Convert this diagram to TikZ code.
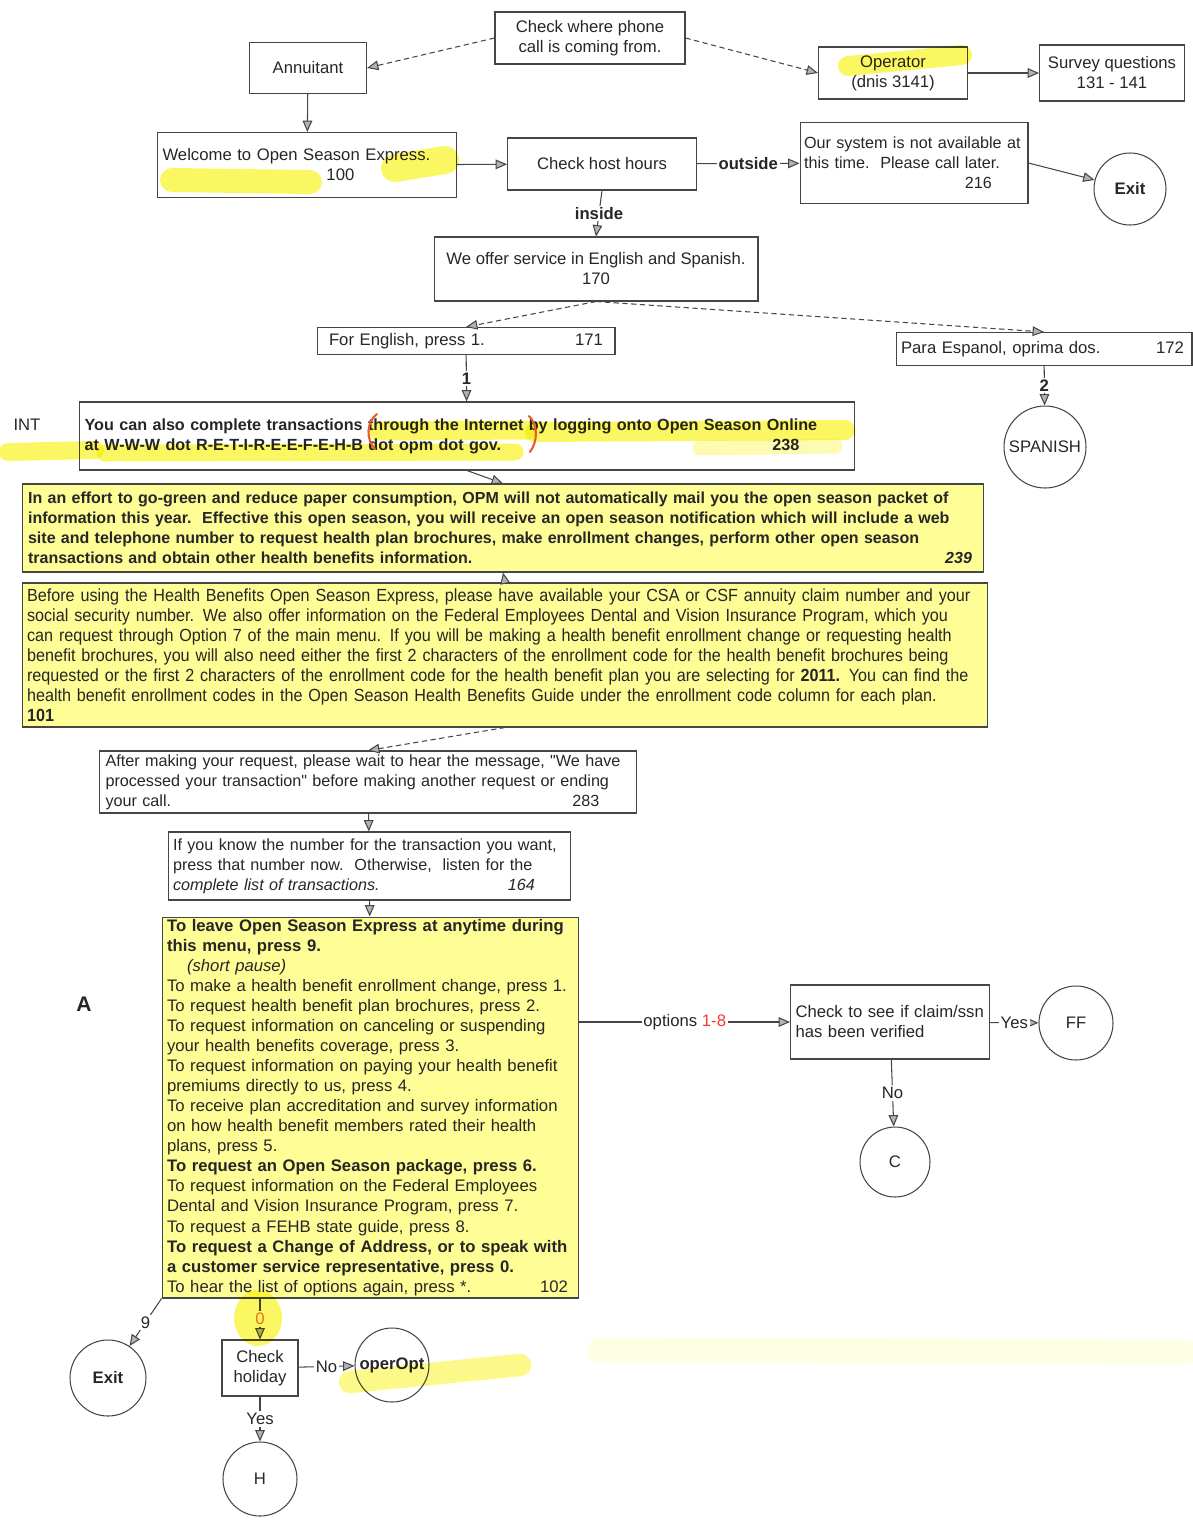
\documentclass[tikz,border=0pt]{standalone}
\usepackage{fontspec}
\setmainfont{Liberation Sans}
\newfontfamily\narrowfont{Liberation Sans}[FakeStretch=0.92]
\newfontfamily\qfont{Liberation Sans}
\usepackage{tikz}
\usetikzlibrary{arrows.meta,calc}
\definecolor{linec}{RGB}{70,70,70}
\definecolor{boxyel}{RGB}{255,253,150}
\definecolor{hlyel}{RGB}{250,245,60}
\definecolor{penred}{RGB}{232,90,50}
\definecolor{zeroc}{RGB}{235,120,60}
\newcommand{\fsz}{\fontsize{9.5}{11.4}\selectfont}
\newcommand{\fsm}{\fontsize{9.2}{11.4}\selectfont}
\newcommand{\rnum}[2]{\hskip0pt plus1fill #1\hspace*{#2}}
\newcommand{\dq}{{\qfont"}}

\begin{document}
\begin{tikzpicture}[x=0.02cm,y=-0.02cm,>={Triangle[length=6.5pt,width=5.5pt,fill=gray!60]},
		every node/.style={text=black!85,font=\fsz},
		box/.style={draw=linec,line width=0.6pt,inner xsep=0.1cm,inner ysep=0pt},
		ybox/.style={box,fill=boxyel},
		circ/.style={draw=linec,line width=0.6pt,circle,inner sep=0pt},
		conn/.style={linec,line width=0.6pt},
		dsh/.style={conn,densely dashed},
		lbl/.style={fill=white,inner sep=1pt,font=\fsz\bfseries},
		hl/.style={hlyel,line cap=round,opacity=0.8},
		pen/.style={penred,line width=1.2pt,line cap=round}
		]
		\useasboundingbox (0,0) rectangle (1193,1522);
		%INGRESSO
		\node[box,minimum width=3.8cm,minimum height=1.04cm,align=center] (@chk) at (590,38) {Check where phone\\call is coming from.};
		\node[box,minimum width=2.34cm,minimum height=1.02cm] (@ann) at (308,68) {Annuitant};
		\node[box,minimum width=2.98cm,minimum height=1.04cm,align=center] (@op) at (893,73) {Operator\\(dnis 3141)};
		\node[box,minimum width=2.9cm,minimum height=1.12cm,align=center] (@srv) at (1112,73) {Survey questions\\131 - 141};
		\node[box,text width=5.78cm,minimum height=1.3cm,align=left] (@wel) at (307,165) {Welcome to Open Season Express.\\\hspace*{3.28cm}100};
		\node[box,minimum width=3.78cm,minimum height=1.04cm] (@host) at (602,164) {Check host hours};
		\node[box,inner xsep=0.08cm,text width=4.4cm,minimum height=1.62cm,align=left,font=\fsm] (@sys) at (914,163) {Our system is not available at\\this time.\ \ Please call later.\\\hspace*{3.22cm}216};
		\node[circ,minimum size=1.44cm,font=\fsz\bfseries] (@exit1) at (1130,189) {Exit};
		%LINGUA
		\node[box,minimum width=6.48cm,minimum height=1.28cm,align=center] (@offer) at (596,269) {We offer service in English and Spanish.\\170};
		\node[box,inner xsep=0.24cm,text width=5.48cm,minimum height=0.54cm,align=left] (@eng) at (466,341) {For English, press 1.\rnum{171}{0cm}};
		\node[box,inner xsep=0.1cm,text width=5.72cm,minimum height=0.66cm,align=left] (@para) at (1044,349) {Para Espanol, oprima dos.\rnum{172}{0.06cm}};
		\node[circ,minimum size=1.64cm] (@spa) at (1045,447) {SPANISH};
		%MESSAGGI
		\node (@intlab) at (27,425) {INT};
		\node[box,text width=15.3cm,minimum height=1.36cm,align=left,font=\fsm\bfseries] (@int) at (467,436) {You can also complete transactions through the Internet by logging onto Open Season Online\\at W-W-W dot R-E-T-I-R-E-E-F-E-H-B dot opm dot gov.\rnum{238}{1.0cm}};
		\node[ybox,inner xsep=0.12cm,text width=19.0cm,minimum height=1.76cm,align=left,font=\fontsize{9.1}{11.4}\selectfont\bfseries] (@green) at (503,528) {In an effort to go-green and reduce paper consumption, OPM will not automatically mail you the open season packet of\\information this year.\ \ Effective this open season, you will receive an open season notification which will include a web\\site and telephone number to request health plan brochures, make enrollment changes, perform other open season\\transactions and obtain other health benefits information.\rnum{\textit{239}}{0.12cm}};
		\node[ybox,text width=19.12cm,minimum height=2.88cm,align=left,font=\narrowfont\fontsize{10}{11.4}\selectfont] (@info) at (505,655) {Before using the Health Benefits Open Season Express, please have available your CSA or CSF annuity claim number and your\\social security number. We also offer information on the Federal Employees Dental and Vision Insurance Program, which you\\can request through Option 7 of the main menu. If you will be making a health benefit enrollment change or requesting health\\benefit brochures, you will also need either the first 2 characters of the enrollment code for the health benefit brochures being\\requested or the first 2 characters of the enrollment code for the health benefit plan you are selecting for \textbf{2011.} You can find the\\health benefit enrollment codes in the Open Season Health Benefits Guide under the enrollment code column for each plan.\\\textbf{101}};
		\node[box,inner xsep=0.12cm,text width=10.5cm,minimum height=1.24cm,align=left,font=\fsm] (@wait) at (368,782) {After making your request, please wait to hear the message, \dq We have\\processed your transaction\dq\ before making another request or ending\\your call.\rnum{283}{0.62cm}};
		\node[box,text width=7.86cm,minimum height=1.36cm,align=left,font=\fsm] (@know) at (369.5,866) {If you know the number for the transaction you want,\\press that number now.\ \ Otherwise,\ \ listen for the\\\textit{complete list of transactions.}\rnum{\textit{164}}{0.62cm}};
		%MENU
		\node (@alab) at (84,1004) {\fontsize{12}{14}\selectfont\bfseries A};
		\node[ybox,text width=8.14cm,minimum height=7.62cm,align=left] (@menu) at (370.5,1107.5) {\textbf{To leave Open Season Express at anytime during}\\\textbf{this menu, press 9.}\\\hspace*{0.4cm}\textit{(short pause)}\\To make a health benefit enrollment change, press 1.\\To request health benefit plan brochures, press 2.\\To request information on canceling or suspending\\your health benefits coverage, press 3.\\To request information on paying your health benefit\\premiums directly to us, press 4.\\To receive plan accreditation and survey information\\on how health benefit members rated their health\\plans, press 5.\\\textbf{To request an Open Season package, press 6.}\\To request information on the Federal Employees\\Dental and Vision Insurance Program, press 7.\\To request a FEHB state guide, press 8.\\\textbf{To request a Change of Address, or to speak with}\\\textbf{a customer service representative, press 0.}\\To hear the list of options again, press *.\rnum{102}{0.12cm}};
		\node[box,text width=3.78cm,minimum height=1.48cm,align=left] (@claim) at (890,1022) {Check to see if claim/ssn\\has been verified};
		\node[circ,minimum size=1.48cm] (@ff) at (1076,1023) {FF};
		\node[circ,minimum size=1.4cm] (@c) at (895,1162) {C};
		\node[circ,minimum size=1.52cm,font=\fsz\bfseries] (@exit2) at (108,1378) {Exit};
		\node[box,minimum width=1.52cm,minimum height=1.12cm,align=center] (@hol) at (260,1368) {Check\\holiday};
		\node[circ,minimum size=1.48cm,font=\fsz\bfseries] (@oper) at (392,1365) {operOpt};
		\node[circ,minimum size=1.48cm] (@h) at (260,1479) {H};
		%FRECCE
		\draw[dsh,->] (@chk.west) -- (@ann.east);
		\draw[dsh,->] (@chk.east) -- (@op.west);
		\draw[conn,->] (@op) -- (@srv);
		\draw[conn,->] (@ann) -- (@wel);
		\draw[conn,->] (@wel) -- (@host);
		\draw[conn,->] (@host) -- node[lbl] {outside} (@sys);
		\draw[conn,->] (@sys.east) -- (@exit1);
		\draw[conn,->] (@host.south) -- node[lbl] {inside} (@offer.north);
		\draw[dsh,->] (@offer.south) -- (@eng.north);
		\draw[dsh,->] (@offer.south) -- (@para.north);
		\draw[conn,->] (@eng) -- node[lbl] {1} (@int);
		\draw[conn,->] (@para) -- node[lbl] {2} (@spa);
		\draw[conn,->] (@int.south) -- (@green.north);
		\draw[conn,->] (@info.north) -- (@green.south);
		\draw[dsh,->] (@info.south) -- (@wait.north);
		\draw[conn,->] (@wait) -- (@know);
		\draw[conn,->] (@know) -- (@menu);
		\draw[conn,->] (@menu.east |- @claim) -- node[lbl,font=\fsz] {options \textcolor{red!80}{1-8}} (@claim);
		\draw[conn,->] (@claim) -- node[lbl,font=\fsz] {Yes} (@ff);
		\draw[conn,->] (@claim) -- node[lbl,font=\fsz] {No} (@c);
		\draw[conn,->] (@menu.south west) -- node[lbl,font=\fsz] {9} (@exit2);
		\draw[conn,->] (@hol |- @menu.south) -- node[lbl,font=\fsz,text=zeroc] {0} (@hol);
		\draw[conn,->] (@hol) -- node[lbl,font=\fsz] {No} (@oper);
		\draw[conn,->] (@hol) -- node[lbl,font=\fsz] {Yes} (@h);
		%EVIDENZIATORE
		\begin{scope}[blend mode=multiply]
		\draw[hl,line width=0.48cm] (172,180) -- (310,182);
		\draw[hl,line width=0.56cm] (395,168) -- (445,160);
		\draw[hl,line width=0.4cm] (848,66) -- (962,55);
		\draw[hl,line width=0.36cm] (8,452) -- (95,450);
		\draw[hl,line width=0.38cm] (378,431) -- (528,430);
		\draw[hl,line width=0.34cm] (105,453) -- (515,452);
		\draw[hl,line width=0.4cm] (535,432) -- (845,430);
		\draw[hl,line width=0.3cm,opacity=0.4] (700,448) -- (835,446);
		\fill[hl] (258,1318) ellipse (24 and 28);
		\draw[hl,line width=0.45cm,opacity=0.6] (350,1382) -- (520,1365);
		\draw[hl,line width=0.5cm,opacity=0.15] (600,1350) -- (1185,1352);
		\end{scope}
		%PARENTESI
		\draw[pen] (377,414) .. controls (366,422) and (366,440) .. (375,449);
		\draw[pen] (529,416) .. controls (538,425) and (538,441) .. (530,452);
	\end{tikzpicture}
\end{document}
